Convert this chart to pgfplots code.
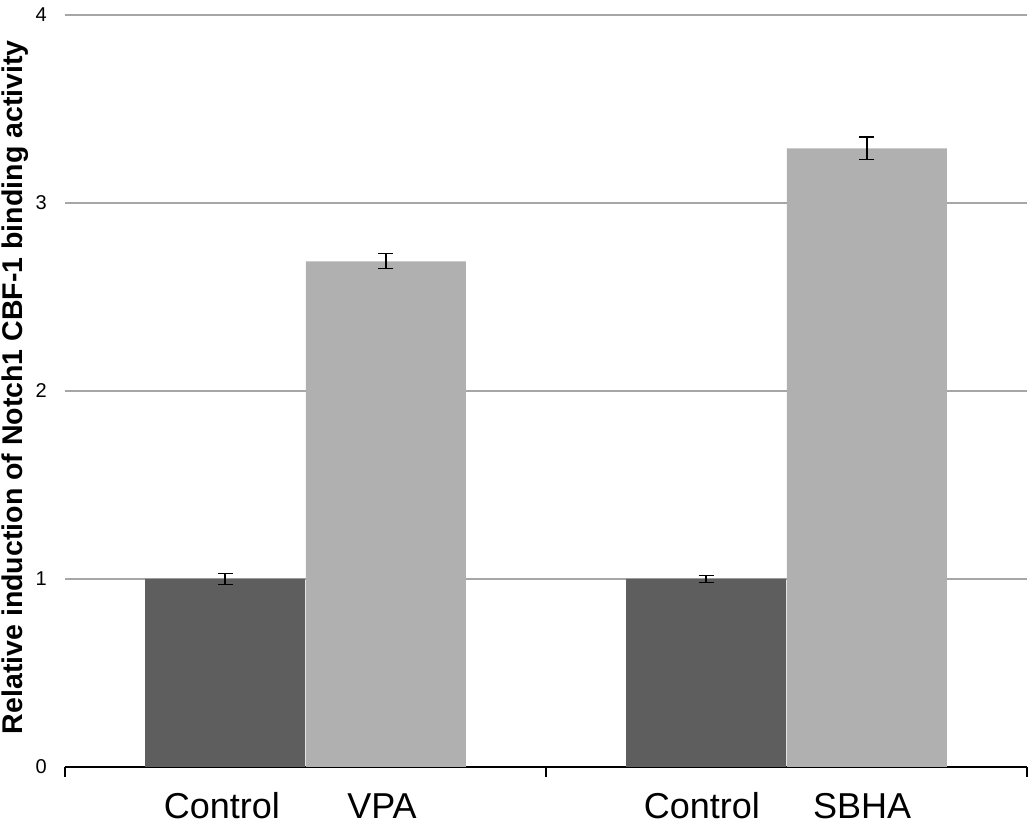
\documentclass[border=0pt]{standalone}
\usepackage{pgfplots}
\pgfplotsset{compat=1.18}
\usepackage{fontspec}
\setmainfont{Liberation Sans}
\definecolor{darkbar}{HTML}{5E5E5E}
\definecolor{lightbar}{HTML}{B0B0B0}
\definecolor{gridgray}{HTML}{A6A6A6}
\newcommand{\tl}[1]{\fontsize{20}{22}\selectfont #1}
\begin{document}
\begin{tikzpicture}
\begin{axis}[
  scale only axis,
  width=962pt, height=752pt,
  xmin=0, xmax=2,
  ymin=0, ymax=4,
  axis lines*=left,
  separate axis lines,
  y axis line style={draw=none},
  x axis line style={black, line width=1.3pt},
  xtick={0,1,2},
  xticklabels={},
  xtick style={black, line width=1.3pt},
  tick align=outside,
  major tick length=10pt,
  ytick={0,1,2,3,4},
  yticklabels={\tl{0},\tl{1},\tl{2},\tl{3},\tl{4}},
  ytick style={draw=none},
  ymajorgrids=true,
  grid style={gridgray, line width=1.5pt},
  yticklabel style={inner sep=0pt, anchor=east, xshift=-8pt},
  extra x ticks={0.326,0.659,1.324,1.657},
  extra x tick labels={Control,VPA,Control,SBHA},
  extra x tick style={major tick length=0pt, tick style={draw=none},
    xticklabel style={font=\fontsize{36}{40}\selectfont, inner sep=0pt,
      text height=26pt, text depth=0pt, anchor=north, yshift=-25pt}},
  ylabel={Relative induction of Notch1 CBF-1 binding activity},
  ylabel style={font=\fontsize{28.5}{32}\selectfont\bfseries, inner sep=0pt,
    at={(axis description cs:0,0.505)}, anchor=south, yshift=36pt},
  clip=false,
]
\addplot[ybar, bar width=160pt, bar shift=0pt, fill=darkbar, draw=none,
  error bars/.cd, y dir=both, y explicit,
  error bar style={black, line width=1.4pt},
  error mark options={rotate=90, mark size=7.5pt, black, line width=1.4pt}]
  coordinates {
  (0.333,1.00) +- (0,0.03)
  (1.333,1.00) +- (0,0.02)
  };
\addplot[ybar, bar width=160pt, bar shift=0pt, fill=lightbar, draw=none,
  error bars/.cd, y dir=both, y explicit,
  error bar style={black, line width=1.4pt},
  error mark options={rotate=90, mark size=7.5pt, black, line width=1.4pt}]
  coordinates {
  (0.667,2.69) +- (0,0.04)
  (1.667,3.29) +- (0,0.06)
  };
\coordinate (ll) at (axis cs:0,0);
\coordinate (ur) at (axis cs:2,4);
\end{axis}
\pgfresetboundingbox
\useasboundingbox ([xshift=-65pt,yshift=-58pt]ll) rectangle ([xshift=8pt,yshift=15pt]ur);
\end{tikzpicture}
\end{document}
